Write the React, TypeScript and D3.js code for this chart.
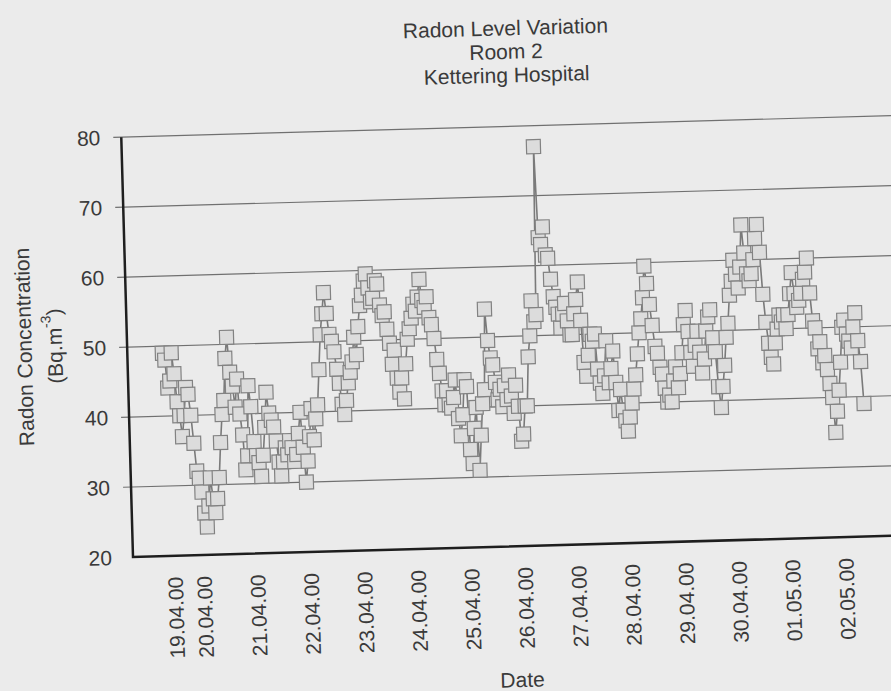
import { useEffect, useRef } from 'react';
import * as d3 from 'd3';

const TITLE_LINES = ['Radon Level Variation', 'Room 2', 'Kettering Hospital'];

// hourly readings (Bq.m-3), first one on 19.04 at about 08:00
const apr19 = [49, 48, 44, 45, 49, 46, 42, 40, 37, 40, 44, 43, 40, 36, 32, 31];
const apr20 = [29, 26, 24, 27, 31, 28, 26, 28, 31, 36, 40, 42, 48, 51, 46, 44, 41, 45, 40, 37, 32, 34, 44, 41];
const apr21 = [36, 34, 33, 31, 34, 38, 43, 40, 39, 38, 36, 33, 31, 33, 35, 34, 36, 35, 33, 34, 37, 40, 35, 30];
const apr22 = [33, 36.5, 40.5, 36, 39, 41, 46, 51, 54, 57, 54, 51, 50, 48.5, 46, 44, 41, 39.5, 41.5, 44, 45.5, 47, 50.5, 48];
const apr23 = [52, 55, 56.5, 58.5, 59.5, 57.5, 55.5, 56, 58.5, 58, 55, 53.5, 54, 51.5, 49.5, 46.5, 48.5, 44.5, 42.5, 44.5, 41.5, 46.5, 50, 51.5];
const apr24 = [53, 55, 54, 56, 58.5, 55.5, 54.5, 56, 53, 52, 50, 47, 45, 42.5, 40.5, 42.5, 40.5, 40, 41.5, 44, 38.5, 36, 39, 44];
const apr25 = [43, 34, 32, 37, 40, 31, 36, 40.5, 42.5, 54, 49.5, 47, 46, 43.5, 41, 42.5, 40, 43, 41, 44.5, 41.5, 39, 43, 40];
const apr26 = [35, 36, 40, 40, 47, 50, 55, 52, 53, 77, 64, 63, 65.5, 61.5, 61, 58, 55.5, 54, 53, 51, 53, 54.5, 52, 50];
const apr27 = [50, 53, 55, 57.5, 52, 46, 44, 47, 50, 49, 50, 45, 43, 41.5, 44, 49, 43, 45, 47.5, 43, 39, 42, 39, 37.5];
const apr28 = [36, 38, 40, 42, 44, 47, 50, 52, 55, 59.5, 57, 54, 51, 48, 47, 45, 44, 42, 40, 41, 40, 43, 45, 42];
const apr29 = [44, 47, 51, 53, 50, 47, 45, 48, 50, 47, 44, 46, 50, 52, 53, 49, 47, 42, 39, 42, 45, 49, 51, 55];
const apr30 = [57, 60, 58, 56, 59, 65, 61, 58, 57, 58, 60, 63, 65, 61, 55, 51, 48, 46, 45, 48, 50, 52, 51, 52];
const may01 = [50, 52, 55, 58, 55, 53, 54, 55, 57, 58, 60, 55, 51, 50, 47, 48, 45, 46, 44, 42, 40, 35, 38, 41];
const may02 = [45, 50, 51, 49, 48, 47, 50, 52, 48, 45, 39];

const READINGS = [
  ...apr19, ...apr20, ...apr21, ...apr22, ...apr23, ...apr24, ...apr25,
  ...apr26, ...apr27, ...apr28, ...apr29, ...apr30, ...may01, ...may02,
];

// reading index where each date label sits
const TICK_INDEX = [3, 16, 40, 64, 88, 112, 136, 160, 184, 208, 232, 256, 280, 304];
const TICK_LABELS = [
  '19.04.00', '20.04.00', '21.04.00', '22.04.00', '23.04.00', '24.04.00', '25.04.00',
  '26.04.00', '27.04.00', '28.04.00', '29.04.00', '30.04.00', '01.05.00', '02.05.00',
];
const Y_TICKS = [20, 30, 40, 50, 60, 70, 80];

const FONT = "'Liberation Sans', Arial, sans-serif";
const TEXT = '#3a3a3a';

export default function App() {
  const svgRef = useRef<SVGSVGElement>(null);

  useEffect(() => {
    if (!svgRef.current) return;

    const width = 891;
    const height = 691;
    const plot = { left: 133, right: 905, top: 137, bottom: 557 };

    const svg = d3.select(svgRef.current);
    svg.selectAll('*').remove();
    svg.attr('width', width).attr('height', height);

    svg.append('rect')
      .attr('width', width)
      .attr('height', height)
      .attr('fill', '#ebebeb');

    // the sheet was photographed slightly tilted
    const g = svg.append('g')
      .attr('transform', `rotate(-1.6, ${plot.left}, ${plot.bottom})`)
      .attr('font-family', FONT)
      .attr('fill', TEXT);

    const x = d3.scaleLinear()
      .domain([0, READINGS.length - 1])
      .range([168, 868]);

    const y = d3.scaleLinear()
      .domain([20, 80])
      .range([plot.bottom, plot.top]);

    // Title
    g.append('text')
      .attr('text-anchor', 'middle')
      .attr('font-size', '21px')
      .selectAll('tspan')
      .data(TITLE_LINES)
      .enter()
      .append('tspan')
      .attr('x', 520)
      .attr('y', (_, i) => 46 + i * 23.5)
      .text(d => d);

    // Gridlines (with little ticks left of the axis)
    g.selectAll('.grid')
      .data(Y_TICKS.filter(v => v > 20))
      .enter()
      .append('line')
      .attr('class', 'grid')
      .attr('x1', plot.left - 8)
      .attr('x2', plot.right)
      .attr('y1', d => y(d))
      .attr('y2', d => y(d))
      .attr('stroke', '#707070')
      .attr('stroke-width', 1.2);

    // Y tick labels
    g.selectAll('.ytick')
      .data(Y_TICKS)
      .enter()
      .append('text')
      .attr('class', 'ytick')
      .attr('x', 112)
      .attr('y', d => y(d))
      .attr('text-anchor', 'end')
      .attr('dominant-baseline', 'central')
      .attr('font-size', '21px')
      .text(d => d);

    // Axes
    g.append('path')
      .attr('d', `M${plot.left},${plot.top}V${plot.bottom}H${plot.right}`)
      .attr('fill', 'none')
      .attr('stroke', '#1e1e1e')
      .attr('stroke-width', 2.5);

    // X tick labels
    g.selectAll('.xtick')
      .data(TICK_INDEX)
      .enter()
      .append('text')
      .attr('class', 'xtick')
      .attr('x', d => x(d))
      .attr('y', 578)
      .attr('transform', d => `rotate(-90, ${x(d)}, 578)`)
      .attr('text-anchor', 'end')
      .attr('dominant-baseline', 'central')
      .attr('font-size', '21px')
      .text((_, i) => TICK_LABELS[i]);

    // Axis titles
    g.append('text')
      .attr('x', 519)
      .attr('y', 698)
      .attr('text-anchor', 'middle')
      .attr('font-size', '21px')
      .text('Date');

    const yTitle = g.append('text')
      .attr('transform', 'translate(30, 344) rotate(-90)')
      .attr('text-anchor', 'middle')
      .attr('font-size', '21px');
    yTitle.append('tspan')
      .attr('x', 0)
      .attr('y', 0)
      .attr('dominant-baseline', 'central')
      .text('Radon Concentration');

    const unit = g.append('text')
      .attr('transform', 'translate(60, 344) rotate(-90)')
      .attr('text-anchor', 'middle')
      .attr('dominant-baseline', 'central')
      .attr('font-size', '21px');
    unit.append('tspan').text('(Bq.m');
    unit.append('tspan')
      .attr('font-size', '14px')
      .attr('dy', -8)
      .text('-3');
    unit.append('tspan')
      .attr('dy', 8)
      .text(')');

    // Series line
    const line = d3.line<number>()
      .x((_, i) => x(i))
      .y(d => y(d));

    g.append('path')
      .datum(READINGS)
      .attr('d', line)
      .attr('fill', 'none')
      .attr('stroke', '#7a7a7a')
      .attr('stroke-width', 1.6);

    // Square markers
    const size = 14;
    g.selectAll('.marker')
      .data(READINGS)
      .enter()
      .append('rect')
      .attr('class', 'marker')
      .attr('x', (_, i) => x(i) - size / 2)
      .attr('y', d => y(d) - size / 2)
      .attr('width', size)
      .attr('height', size)
      .attr('fill', '#dcdcdc')
      .attr('stroke', '#828282')
      .attr('stroke-width', 1.2);
  }, []);

  return (
    <svg
      ref={svgRef}
      style={{ position: 'absolute', left: 0, top: 0, display: 'block' }}
    ></svg>
  );
}
